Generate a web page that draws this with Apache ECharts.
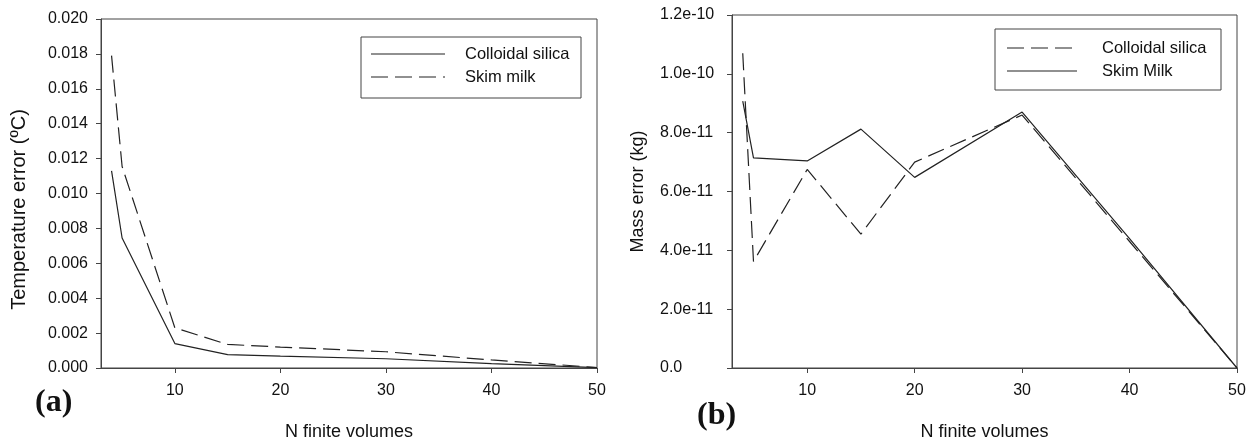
<!DOCTYPE html>
<html>
<head>
<meta charset="utf-8">
<script src="https://cdn.jsdelivr.net/npm/echarts@6/dist/echarts.min.js"></script>
<style>html,body{margin:0;padding:0;background:#fff;}#c{width:1255px;height:446px;}</style>
</head>
<body>
<div id="c"></div>
<script>
// ---- data ----
const nVolumes = [4, 5, 10, 15, 20, 30, 40, 50];
const xTicks = [10, 20, 30, 40, 50];
const tempColloidal = [0.0113, 0.00745, 0.0014, 0.00077, 0.00068, 0.00053, 0.00025, 0.00002];
const tempSkim = [0.0179, 0.01155, 0.0023, 0.00135, 0.0012, 0.00093, 0.00046, 0.00003];
const massColloidal = [1.07e-10, 3.62e-11, 6.75e-11, 4.55e-11, 7.0e-11, 8.6e-11, 4.3e-11, 0];
const massSkim = [9.07e-11, 7.14e-11, 7.04e-11, 8.12e-11, 6.48e-11, 8.7e-11, 4.4e-11, 0];
const legendA = ['Colloidal silica', 'Skim milk'];
const legendB = ['Colloidal silica', 'Skim Milk'];
const xTitle = 'N finite volumes';
const yTitleA = 'Temperature error (ºC)';
const yTitleB = 'Mass error (kg)';
const panelLabels = ['(a)', '(b)'];

const pairs = (ys) => nVolumes.map((n, i) => [n, ys[i]]);
const LINE = '#222';
const AXIS = '#444';
const FONT = 'Liberation Sans, Arial, sans-serif';
const DASH = [17, 7];

function xAxisCfg(gi) {
  return {
    type: 'value', gridIndex: gi, min: 3, max: 50,
    name: xTitle, nameLocation: 'middle', nameGap: 55,
    nameTextStyle: {fontFamily: FONT, fontSize: 18, color: '#111'},
    axisLine: {show: true, onZero: false, lineStyle: {color: AXIS, width: 1}},
    axisTick: {show: true, inside: false, length: 5, customValues: xTicks, lineStyle: {color: AXIS}},
    axisLabel: {customValues: xTicks, fontFamily: FONT, fontSize: 16, color: '#111', margin: 15},
    splitLine: {show: false}
  };
}

function legendGraphic(names, styles, box, lineX0, lineX1, textX, rowY) {
  const els = [{
    type: 'rect', shape: {x: box[0], y: box[1], width: box[2], height: box[3]},
    style: {fill: 'none', stroke: AXIS, lineWidth: 1}
  }];
  names.forEach((nm, i) => {
    els.push({
      type: 'line', shape: {x1: lineX0, y1: rowY[i], x2: lineX1, y2: rowY[i]},
      style: {stroke: LINE, lineWidth: 1.2, lineDash: styles[i] === 'dashed' ? DASH : null}
    });
    els.push({
      type: 'text', x: textX, y: rowY[i],
      style: {text: nm, fontFamily: FONT, fontSize: 16.5, fill: '#111', verticalAlign: 'middle', align: 'left'}
    });
  });
  return els;
}

const chart = echarts.init(document.getElementById('c'));
chart.setOption({
  animation: false,
  backgroundColor: '#fff',
  title: [
    {text: panelLabels[0], left: 35, top: 387, padding: 0,
     textStyle: {fontFamily: 'Liberation Serif, Times New Roman, serif', fontWeight: 'bold', fontSize: 32, color: '#111'}},
    {text: panelLabels[1], left: 697, top: 400, padding: 0,
     textStyle: {fontFamily: 'Liberation Serif, Times New Roman, serif', fontWeight: 'bold', fontSize: 32, color: '#111'}}
  ],
  grid: [
    {left: 101, top: 19, right: 1255 - 597, bottom: 69, show: true, borderColor: AXIS, borderWidth: 1, backgroundColor: 'transparent', containLabel: false},
    {left: 732, top: 15, right: 1255 - 1237, bottom: 68, show: true, borderColor: AXIS, borderWidth: 1, backgroundColor: 'transparent', containLabel: false}
  ],
  xAxis: [xAxisCfg(0), xAxisCfg(1)],
  yAxis: [
    {type: 'value', gridIndex: 0, min: 0, max: 0.02, interval: 0.002,
     name: yTitleA, nameLocation: 'middle', nameGap: 72, nameRotate: 90,
     nameTextStyle: {fontFamily: FONT, fontSize: 20, color: '#111', padding: [0, 32, 0, 0]},
     axisLine: {show: true, lineStyle: {color: AXIS, width: 1}},
     axisTick: {show: true, inside: false, length: 5, lineStyle: {color: AXIS}},
     axisLabel: {fontFamily: FONT, fontSize: 16, color: '#111', margin: 13, formatter: v => v.toFixed(3)},
     splitLine: {show: false}},
    {type: 'value', gridIndex: 1, min: 0, max: 1.2e-10, interval: 2e-11,
     name: yTitleB, nameLocation: 'middle', nameGap: 85, nameRotate: 90,
     nameTextStyle: {fontFamily: FONT, fontSize: 18, color: '#111'},
     axisLine: {show: true, lineStyle: {color: AXIS, width: 1}},
     axisTick: {show: true, inside: false, length: 5, lineStyle: {color: AXIS}},
     axisLabel: {fontFamily: FONT, fontSize: 16, color: '#111', margin: 72, align: 'left',
       formatter: v => (Math.abs(v) < 1e-15 ? '0.0' : v.toExponential(1))},
     splitLine: {show: false}}
  ],
  series: [
    {name: legendA[0], type: 'line', xAxisIndex: 0, yAxisIndex: 0, data: pairs(tempColloidal),
     symbol: 'none', lineStyle: {color: LINE, width: 1.2, type: 'solid'}},
    {name: legendA[1], type: 'line', xAxisIndex: 0, yAxisIndex: 0, data: pairs(tempSkim),
     symbol: 'none', lineStyle: {color: LINE, width: 1.2, type: DASH}},
    {name: legendB[0] + ' ', type: 'line', xAxisIndex: 1, yAxisIndex: 1, data: pairs(massColloidal),
     symbol: 'none', lineStyle: {color: LINE, width: 1.2, type: DASH}},
    {name: legendB[1], type: 'line', xAxisIndex: 1, yAxisIndex: 1, data: pairs(massSkim),
     symbol: 'none', lineStyle: {color: LINE, width: 1.2, type: 'solid'}}
  ],
  graphic: [
    ...legendGraphic(legendA, ['solid', 'dashed'], [361, 37, 220, 61], 371, 445, 465, [54, 77]),
    ...legendGraphic(legendB, ['dashed', 'solid'], [995, 29, 226, 61], 1007, 1077, 1102, [48, 71])
  ]
});
</script>
</body>
</html>
